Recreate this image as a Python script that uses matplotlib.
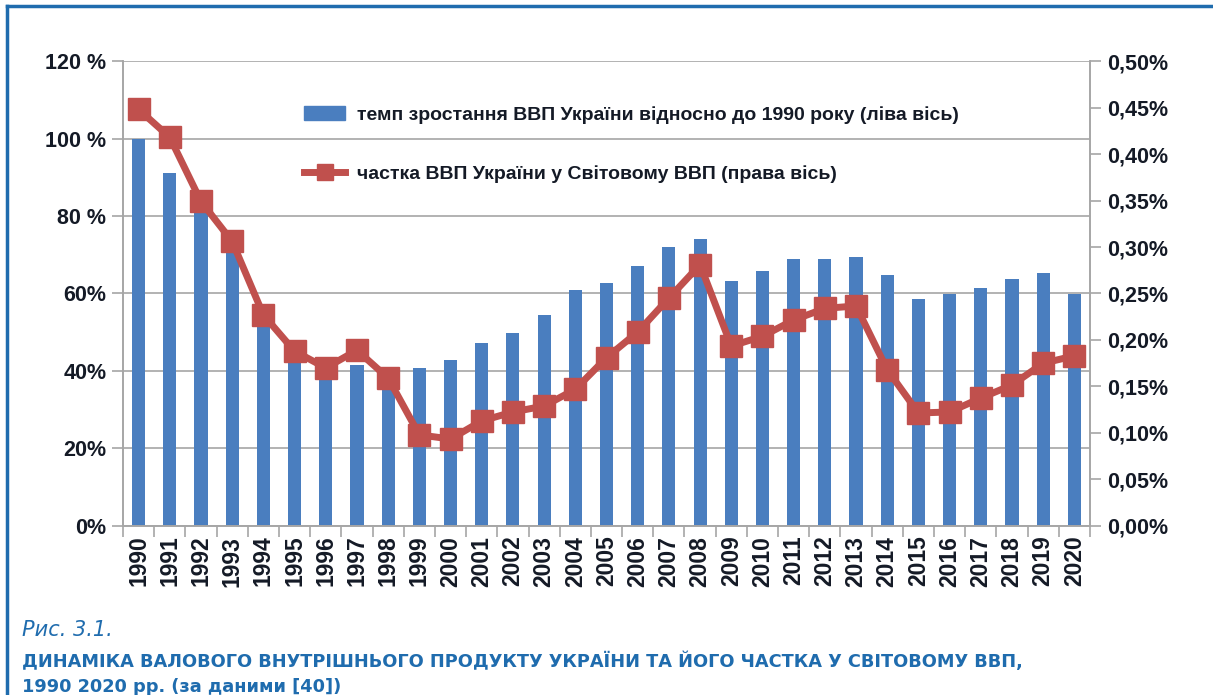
import matplotlib
matplotlib.use("Agg")
import matplotlib.pyplot as plt
from matplotlib import font_manager
from matplotlib.lines import Line2D
from matplotlib.patches import Rectangle
from matplotlib.ticker import FixedLocator

years = [str(y) for y in range(1990, 2021)]
gdp_index = [100, 91.1, 82.4, 70.4, 54.5, 47.6, 40.5, 41.5, 40.7, 40.7,
             42.8, 47.1, 49.9, 54.5, 60.9, 62.6, 67.1, 72.1, 74.0, 63.1,
             65.8, 68.8, 68.8, 69.5, 64.9, 58.5, 59.8, 61.3, 63.7, 65.4, 59.8]
world_share = [0.448, 0.418, 0.349, 0.306, 0.227, 0.188, 0.170, 0.189, 0.159, 0.098,
               0.0935, 0.113, 0.1226, 0.129, 0.147, 0.181, 0.2086, 0.245, 0.281, 0.1935,
               0.204, 0.2215, 0.234, 0.2366, 0.168, 0.1215, 0.1226, 0.1376, 0.1516, 0.175, 0.183]
left_ticks = [0, 20, 40, 60, 80, 100, 120]
left_labels = ["0%", "20%", "40%", "60%", "80 %", "100 %", "120 %"]
right_ticks = [0.0, 0.05, 0.10, 0.15, 0.20, 0.25, 0.30, 0.35, 0.40, 0.45, 0.50]
right_labels = ["0,00%", "0,05%", "0,10%", "0,15%", "0,20%", "0,25%",
                "0,30%", "0,35%", "0,40%", "0,45%", "0,50%"]
label_bars = "темп зростання ВВП України відносно до 1990 року (ліва вісь)"
label_line = "частка ВВП України у Світовому ВВП (права вісь)"

installed = {f.name for f in font_manager.fontManager.ttflist}
narrow = "Liberation Sans Narrow" if "Liberation Sans Narrow" in installed else "Liberation Sans"

BLUE = "#4a7ebf"
RED = "#c0504d"
TXT = "#141a26"
CAP = "#1f6cae"
GRID = "#a6a6a6"

fig = plt.figure(figsize=(12.13, 6.95), dpi=100)
ax = fig.add_axes([0.1014, 0.2432, 0.7972, 0.669])
ax2 = ax.twinx()

x = list(range(len(years)))
ax.bar(x, gdp_index, width=0.42, color=BLUE, zorder=2)
ax2.plot(x, world_share, color=RED, lw=5, marker="s", ms=16, mec=RED, mfc=RED, zorder=3)

ax.set_xlim(-0.5, len(years) - 0.5)
ax.set_ylim(0, 120)
ax2.set_ylim(0, 0.5)

ax.set_yticks(left_ticks)
ax.set_yticklabels(left_labels, fontsize=15.5, family=narrow, weight="bold", color=TXT)
ax2.set_yticks(right_ticks)
ax2.set_yticklabels(right_labels, fontsize=15.5, family=narrow, weight="bold", color=TXT)
ax.grid(True, axis="y", color=GRID, lw=1.2, zorder=0)
ax.set_axisbelow(True)

ax.set_xticks(x)
ax.set_xticklabels(years, rotation=90, fontsize=16.5, family="Liberation Sans",
                   weight="bold", color=TXT)
ax.tick_params(axis="x", length=0, pad=7)
ax.xaxis.set_minor_locator(FixedLocator([i - 0.5 for i in range(len(years) + 1)]))
ax.tick_params(axis="x", which="minor", length=8, color=GRID, width=1.2)
ax.tick_params(axis="y", length=8, color=GRID, width=1.2, pad=4)
ax2.tick_params(axis="y", length=8, color=GRID, width=1.2, pad=4)

for a in (ax, ax2):
    a.spines["top"].set_visible(False)
    for s in ("left", "right", "bottom"):
        a.spines[s].set_color(GRID)
        a.spines[s].set_linewidth(1.2)

handles = [Rectangle((0, 0), 1, 1, color=BLUE),
           Line2D([], [], color=RED, lw=5, marker="s", ms=12)]
leg = fig.legend(handles, [label_bars, label_line], loc="upper left",
                 bbox_to_anchor=(0.2365, 0.873), frameon=False,
                 prop={"family": narrow, "size": 14, "weight": "bold"},
                 handlelength=2.1, handletextpad=0.6, labelspacing=2.15)
for t in leg.get_texts():
    t.set_color(TXT)

# frame lines of the figure box
fig.add_artist(Line2D([0.0058, 1.0], [0.991, 0.991], color=CAP, lw=2.5))
fig.add_artist(Line2D([0.0058, 0.0058], [0.0, 0.991], color=CAP, lw=2.5))

fig.text(0.018, 0.085, "Рис. 3.1.", fontsize=15, style="italic", color=CAP, family="DejaVu Sans")
fig.text(0.018, 0.040, "ДИНАМІКА ВАЛОВОГО ВНУТРІШНЬОГО ПРОДУКТУ УКРАЇНИ ТА ЙОГО ЧАСТКА У СВІТОВОМУ ВВП,",
         fontsize=12.8, weight="bold", color=CAP, family="DejaVu Sans")
fig.text(0.018, 0.005, "1990 2020 рр. (за даними [40])", fontsize=12.8, weight="bold",
         color=CAP, family="DejaVu Sans")

fig.savefig("out.png", dpi=100)
